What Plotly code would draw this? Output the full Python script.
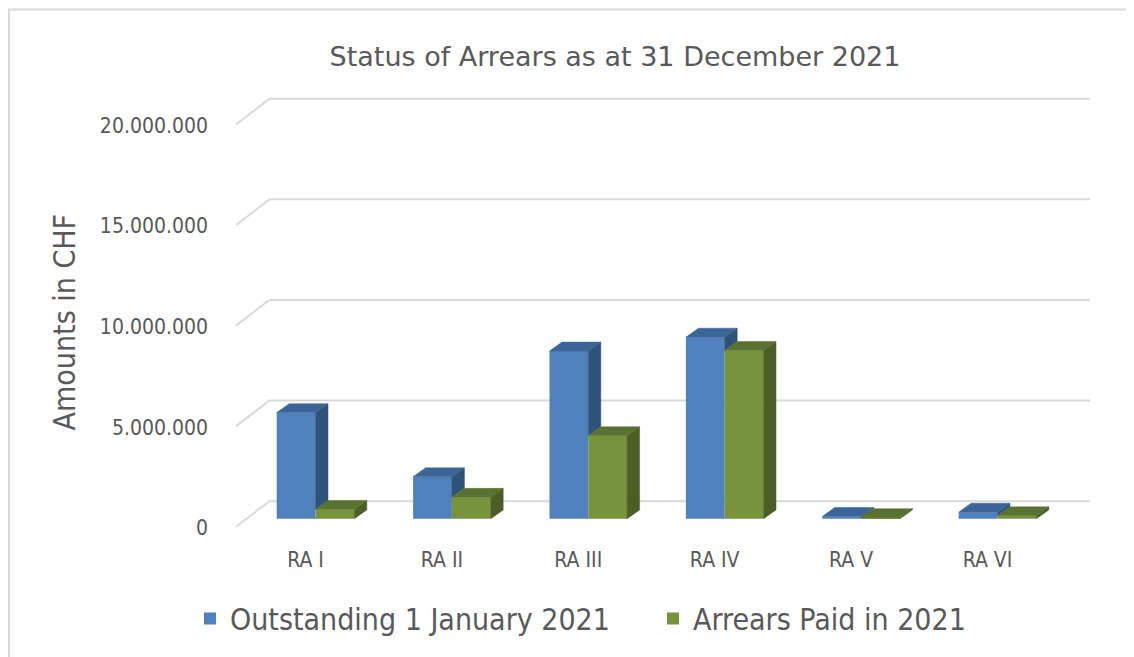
import plotly.graph_objects as go

# ---------------- data ----------------
categories = ["RA I", "RA II", "RA III", "RA IV", "RA V", "RA VI"]
outstanding = [5280000, 2090000, 8340000, 9030000, 120000, 330000]
paid = [470000, 1070000, 4130000, 8370000, 60000, 150000]
series_names = ["Outstanding 1 January 2021", "Arrears Paid in 2021"]
tick_values = [0, 5000000, 10000000, 15000000, 20000000]
tick_labels = ["0", "5.000.000", "10.000.000", "15.000.000", "20.000.000"]
title_text = "Status of Arrears as at 31 December 2021"
y_title = "Amounts in CHF"

# ---------------- geometry / style (pixels of the target picture) ----------------
OFF = 8                                  # page body margin of the browser
W, H = 1134 - OFF, 657 - OFF             # figure size
L, R, T, B = 236, 1090, 80, 540          # plot area in target pixels
X0_PX = 315.5                            # pixel of first category centre
PX_X = 136.4                             # pixels per category
Y0_PX = 521.7                            # pixel of value 0 (bar plane)
PX_Y = 405 / 20e6                        # pixels per CHF

x_range = [(L - X0_PX) / PX_X, (R - X0_PX) / PX_X]
y_range = [(Y0_PX - B) / PX_Y, (Y0_PX - T) / PX_Y]

BAR_W = 38.8 / PX_X
DX = 12.5 / PX_X
DY = 9.0 / PX_Y
BACK_DY = 17.8 / PX_Y
FRONT_DY = -8.0 / PX_Y
BACK_LEFT_X = (269.5 - X0_PX) / PX_X


def px_x(p):
    return (p - L) / (R - L)


def px_y(p):
    return (B - p) / (B - T)


BLUE, BLUE_TOP, BLUE_SIDE = "#4F81BD", "#3B6596", "#2F5279"
GREEN, GREEN_TOP, GREEN_SIDE = "#77933C", "#5A7230", "#4A5E25"
TEXT = "#595959"
GRID = "#D9D9D9"

xs = list(range(len(categories)))

fig = go.Figure()

# front faces (real bars)
fig.add_trace(go.Bar(x=xs, y=outstanding, name=series_names[0],
                     marker=dict(color=BLUE, line=dict(width=0))))
fig.add_trace(go.Bar(x=xs, y=paid, name=series_names[1],
                     marker=dict(color=GREEN, line=dict(width=0))))


def faces(values, offset, base_values=None):
    top_x, top_y, side_x, side_y = [], [], [], []
    for i, v in enumerate(values):
        left = xs[i] + offset
        right = left + BAR_W
        top_x += [left, right, right + DX, left + DX, left, None]
        top_y += [v, v, v + DY, v + DY, v, None]
        base = 0 if base_values is None else base_values[i]
        if base < v:
            side_x += [right, right, right + DX, right + DX, right, None]
            side_y += [base, v, v + DY, base + DY, base, None]
    return top_x, top_y, side_x, side_y


b_tx, b_ty, b_sx, b_sy = faces(outstanding, -BAR_W, base_values=paid)
g_tx, g_ty, g_sx, g_sy = faces(paid, 0.0)

for fx, fy, col in [(b_sx, b_sy, BLUE_SIDE), (b_tx, b_ty, BLUE_TOP),
                    (g_sx, g_sy, GREEN_SIDE), (g_tx, g_ty, GREEN_TOP)]:
    fig.add_trace(go.Scatter(x=fx, y=fy, mode="lines", fill="toself",
                             fillcolor=col, line=dict(color=col, width=0.5),
                             showlegend=False, hoverinfo="skip"))

# back-wall gridlines with side-wall diagonal
shapes = []
for v in tick_values:
    shapes.append(dict(type="path", xref="x", yref="y", layer="below",
                       path=f"M{x_range[0]},{v + FRONT_DY} L{BACK_LEFT_X},{v + BACK_DY} L{x_range[1]},{v + BACK_DY}",
                       line=dict(color=GRID, width=2)))

# outer chart border (left & top visible)
shapes.append(dict(type="rect", xref="paper", yref="paper", layer="below",
                   x0=px_x(OFF + 1), x1=px_x(1134 + 20), y0=px_y(657 + 20), y1=px_y(OFF + 1),
                   line=dict(color=GRID, width=2), fillcolor="rgba(0,0,0,0)"))

fig.update_layout(
    width=W, height=H,
    margin=dict(l=L - OFF, r=W - (R - OFF), t=T - OFF, b=H - (B - OFF), pad=0),
    paper_bgcolor="white", plot_bgcolor="white",
    barmode="group", bargap=1 - 2 * BAR_W, bargroupgap=0,
    title=dict(text=title_text, x=(615 - OFF) / W, xanchor="center", xref="container",
               y=1 - (57 - OFF) / H, yanchor="middle", yref="container",
               font=dict(family="DejaVu Sans", size=27, color=TEXT)),
    xaxis=dict(range=x_range, tickvals=xs, ticktext=categories,
               showgrid=False, zeroline=False, showline=False, ticks="",
               ticklabelshift=-10, ticklabelstandoff=8,
               tickfont=dict(family="DejaVu Sans Condensed", size=21, color=TEXT)),
    yaxis=dict(range=y_range, tickvals=tick_values, ticktext=tick_labels,
               showgrid=False, zeroline=False, showline=False, ticks="",
               ticklabelshift=9, ticklabelstandoff=27,
               tickfont=dict(family="DejaVu Sans Condensed", size=21, color=TEXT)),
    legend=dict(orientation="h", x=px_x(190), xanchor="left",
                y=px_y(622), yanchor="middle", entrywidth=418,
                font=dict(family="DejaVu Sans Condensed", size=30, color=TEXT),
                bgcolor="rgba(0,0,0,0)"),
    annotations=[dict(text=y_title, xref="paper", yref="paper",
                      x=px_x(64), y=px_y(324),
                      xanchor="center", yanchor="middle", textangle=-90,
                      showarrow=False,
                      font=dict(family="DejaVu Sans Condensed", size=30, color=TEXT))],
    shapes=shapes,
    showlegend=True,
)

fig.write_html("out.html")
